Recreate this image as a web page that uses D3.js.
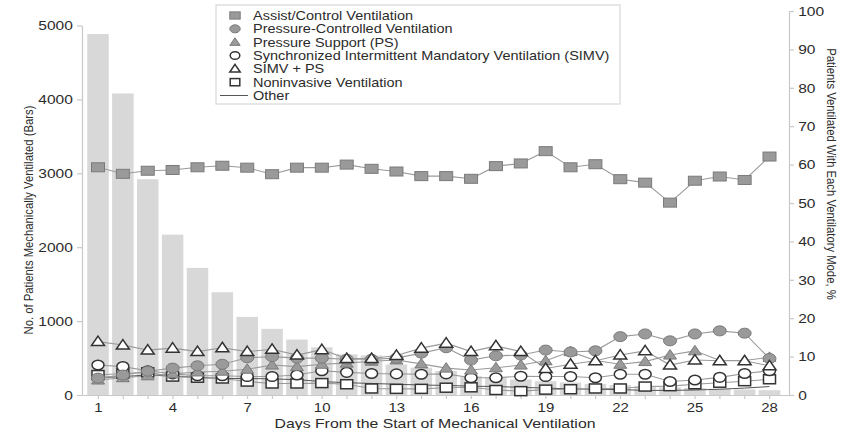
<!DOCTYPE html>
<html>
<head>
<meta charset="utf-8">
<script src="https://cdn.jsdelivr.net/npm/d3@7"></script>
<style>
  html, body { margin: 0; padding: 0; background: #fff; }
  svg { display: block; font-family: "Liberation Sans", Arial, Helvetica, sans-serif; }
</style>
</head>
<body>
<svg id="chart" width="850" height="430"></svg>
<script>
// Days since start of mechanical ventilation
const days = d3.range(1, 29);

// Number of patients still ventilated on each day (bars, left axis)
const patients = [4885, 4080, 2920, 2170, 1720, 1390, 1057, 895, 750, 645,
                  550, 535, 412, 370, 325, 255, 235, 210, 187, 170,
                  150, 135, 120, 105, 95, 85, 75, 65];

// Share of patients on each ventilatory mode, % (right axis)
const assistControl = [59.3, 57.6, 58.4, 58.6, 59.3, 59.7, 59.2, 57.5, 59.2, 59.2,
                       60.0, 58.9, 58.2, 57.0, 57.0, 56.3, 59.6, 60.3, 63.5, 59.3,
                       60.1, 56.2, 55.3, 50.1, 55.8, 56.9, 56.0, 62.1];
const pressureControlled = [4.4, 5.2, 6.2, 7.0, 7.6, 8.0, 9.7, 10.0, 9.6, 9.6,
                            9.3, 9.3, 9.6, 10.9, 12.3, 9.1, 10.2, 10.4, 11.7, 11.2,
                            11.5, 15.2, 15.9, 14.1, 15.9, 16.7, 16.1, 9.5];
const pressureSupport = [3.9, 4.5, 5.0, 5.5, 6.0, 6.2, 6.7, 7.8, 7.4, 8.0,
                         8.3, 8.8, 9.1, 8.1, 7.0, 6.5, 7.1, 7.8, 8.9, 11.3,
                         9.0, 8.0, 8.7, 10.4, 11.5, 9.0, 9.0, 9.8];
const simv = [7.8, 7.4, 6.3, 5.5, 5.0, 5.0, 4.8, 4.8, 5.2, 6.3,
              5.9, 5.6, 5.5, 5.4, 5.5, 4.5, 4.5, 4.9, 4.8, 4.8,
              4.5, 5.4, 5.4, 3.5, 3.9, 4.6, 5.6, 6.3];
const simvPs = [13.9, 13.0, 11.7, 12.2, 11.3, 12.3, 11.3, 11.9, 10.4, 11.8,
                9.5, 9.5, 10.3, 12.2, 13.5, 11.3, 12.8, 11.3, 6.9, 8.0,
                8.9, 10.4, 11.5, 7.8, 9.1, 8.9, 8.9, 7.6];
const noninvasive = [5.2, 5.6, 5.9, 4.8, 4.5, 4.3, 3.5, 3.0, 3.0, 3.1,
                     2.8, 1.7, 1.6, 1.6, 1.9, 2.0, 1.3, 1.0, 1.4, 1.5,
                     1.7, 1.7, 2.2, 2.3, 2.8, 3.2, 3.6, 4.1];
const other = [4.5, 4.8, 5.2, 4.9, 4.6, 4.3, 4.3, 4.2, 4.0, 3.5,
               3.2, 3.0, 2.8, 2.6, 2.5, 2.3, 2.2, 2.0, 1.8, 1.6,
               1.5, 1.4, 1.2, 1.2, 1.3, 1.5, 1.8, 2.2];

// Axis ticks
const leftTicks = [0, 1000, 2000, 3000, 4000, 5000];
const rightTicks = [0, 10, 20, 30, 40, 50, 60, 70, 80, 90, 100];
const dayTickLabels = [1, 4, 7, 10, 13, 16, 19, 22, 25, 28];

// Series definitions (drawing order: back to front)
const seriesList = [
  { name: "Other", values: other, marker: "none" },
  { name: "Noninvasive Ventilation", values: noninvasive, marker: "openSquare" },
  { name: "Synchronized Intermittent Mandatory Ventilation (SIMV)", values: simv, marker: "openCircle" },
  { name: "Pressure Support (PS)", values: pressureSupport, marker: "filledTriangle" },
  { name: "Pressure-Controlled Ventilation", values: pressureControlled, marker: "filledCircle" },
  { name: "SIMV + PS", values: simvPs, marker: "openTriangle" },
  { name: "Assist/Control Ventilation", values: assistControl, marker: "filledSquare" }
];
const legendOrder = [
  "Assist/Control Ventilation",
  "Pressure-Controlled Ventilation",
  "Pressure Support (PS)",
  "Synchronized Intermittent Mandatory Ventilation (SIMV)",
  "SIMV + PS",
  "Noninvasive Ventilation",
  "Other"
];

const svg = d3.select("#chart");
const axisColor = "#c8c8c8";
const textColor = "#2b2b2b";
const stretch = 1.15;   // wide setting of the type

const x = d3.scaleLinear().domain([1, 28]).range([98, 769.5]);
const yLeft = d3.scaleLinear().domain([0, 5000]).range([395, 25.5]);
const yRight = d3.scaleLinear().domain([0, 100]).range([395, 11]);
const barW = 21.5;

// Bars
svg.append("g").selectAll("rect")
  .data(days)
  .join("rect")
  .attr("x", d => x(d) - barW / 2)
  .attr("y", (d, i) => yLeft(patients[i]))
  .attr("width", barW)
  .attr("height", (d, i) => yLeft(0) - yLeft(patients[i]))
  .attr("fill", "#d8d8d8");

// Axes
function styleAxis(g, size) {
  g.select(".domain").attr("stroke", axisColor).attr("stroke-width", 1.2);
  g.selectAll(".tick line").attr("stroke", axisColor).attr("stroke-width", 1.2);
  g.selectAll(".tick text").attr("fill", textColor).attr("font-size", size)
    .attr("font-family", "Liberation Sans, Arial, sans-serif")
    .attr("transform", `scale(${stretch},1)`);
}

const leftAxis = svg.append("g")
  .attr("transform", "translate(82,0)")
  .call(d3.axisLeft(yLeft).tickValues(leftTicks).tickFormat(d3.format("d"))
    .tickSize(5).tickPadding(3).tickSizeOuter(0));
styleAxis(leftAxis, 13.5);

const rightAxis = svg.append("g")
  .attr("transform", "translate(789,0)")
  .call(d3.axisRight(yRight).tickValues(rightTicks).tickSize(5).tickPadding(3).tickSizeOuter(0));
styleAxis(rightAxis, 13.5);

const xAxisScale = d3.scaleLinear().domain([0.36, 28.8]).range([82, 789]);
const bottomAxis = svg.append("g")
  .attr("transform", "translate(0,395)")
  .call(d3.axisBottom(xAxisScale).tickValues(days).tickSize(4).tickPadding(3).tickSizeOuter(0)
    .tickFormat(d => dayTickLabels.includes(d) ? d : ""));
styleAxis(bottomAxis, 13);
bottomAxis.selectAll(".tick text").filter(d => !dayTickLabels.includes(d)).remove();
bottomAxis.selectAll(".tick text").attr("dy", "0.78em");

// Axis titles
svg.append("text")
  .attr("transform", `translate(33,220) rotate(-90) scale(1,${stretch})`)
  .attr("text-anchor", "middle")
  .attr("font-size", 11.3)
  .attr("fill", textColor)
  .text("No. of Patients Mechanically Ventilated (Bars)");

svg.append("text")
  .attr("transform", `translate(827,174) rotate(90) scale(1,${stretch})`)
  .attr("text-anchor", "middle")
  .attr("font-size", 11.3)
  .attr("fill", textColor)
  .text("Patients Ventilated With Each Ventilatory Mode, %");

svg.append("text")
  .attr("transform", `translate(435,428) scale(${stretch + 0.05},1)`)
  .attr("text-anchor", "middle")
  .attr("font-size", 13.2)
  .attr("fill", textColor)
  .text("Days From the Start of Mechanical Ventilation");

// Marker drawing
const filledGrey = "#9a9a9a";
const filledStroke = "#7a7a7a";
const openStroke = "#333";

function drawMarker(g, type, cx, cy, k = 1) {
  switch (type) {
    case "filledSquare":
      g.append("rect").attr("x", cx - 6.5 * k).attr("y", cy - 4.5 * k).attr("width", 13 * k).attr("height", 9 * k)
        .attr("fill", filledGrey).attr("stroke", filledStroke).attr("stroke-width", 1);
      break;
    case "openSquare":
      g.append("rect").attr("x", cx - 6 * k).attr("y", cy - 4.5 * k).attr("width", 12 * k).attr("height", 9 * k)
        .attr("fill", "#fff").attr("stroke", openStroke).attr("stroke-width", 1.5);
      break;
    case "filledCircle":
      g.append("ellipse").attr("cx", cx).attr("cy", cy).attr("rx", 6.5 * k).attr("ry", 5 * k)
        .attr("fill", filledGrey).attr("stroke", filledStroke).attr("stroke-width", 1);
      break;
    case "openCircle":
      g.append("ellipse").attr("cx", cx).attr("cy", cy).attr("rx", 6 * k).attr("ry", 4.8 * k)
        .attr("fill", "#fff").attr("stroke", openStroke).attr("stroke-width", 1.5);
      break;
    case "filledTriangle":
      g.append("path").attr("d", `M${cx},${cy - 5.5 * k}L${cx + 6.5 * k},${cy + 4 * k}L${cx - 6.5 * k},${cy + 4 * k}Z`)
        .attr("fill", filledGrey).attr("stroke", filledStroke).attr("stroke-width", 1);
      break;
    case "openTriangle":
      g.append("path").attr("d", `M${cx},${cy - 5.5 * k}L${cx + 6.5 * k},${cy + 4 * k}L${cx - 6.5 * k},${cy + 4 * k}Z`)
        .attr("fill", "#fff").attr("stroke", openStroke).attr("stroke-width", 1.5);
      break;
  }
}

const line = d3.line().x((d, i) => x(days[i])).y(d => yRight(d));

// Connecting lines first, then markers on top
const linesG = svg.append("g");
seriesList.forEach(s => {
  linesG.append("path")
    .datum(s.values)
    .attr("d", line)
    .attr("fill", "none")
    .attr("stroke", s.marker === "none" ? "#555" : "#9a9a9a")
    .attr("stroke-width", s.marker === "none" ? 1 : 1.1);
});

const markersG = svg.append("g");
seriesList.forEach(s => {
  if (s.marker === "none") return;
  const g = markersG.append("g");
  s.values.forEach((v, i) => drawMarker(g, s.marker, x(days[i]), yRight(v)));
});

// Legend
const legend = svg.append("g");
legend.append("rect")
  .attr("x", 216).attr("y", 5).attr("width", 404).attr("height", 99)
  .attr("fill", "#fff").attr("stroke", "#d8d8d8").attr("stroke-width", 1.2);

const legendRowY = d3.scaleLinear().domain([0, 6]).range([15.5, 95.5]);
legendOrder.forEach((name, i) => {
  const s = seriesList.find(d => d.name === name);
  const cy = legendRowY(i);
  const g = legend.append("g");
  if (s.marker === "none") {
    g.append("line").attr("x1", 220).attr("x2", 248).attr("y1", cy).attr("y2", cy)
      .attr("stroke", "#555").attr("stroke-width", 1);
  } else {
    drawMarker(g, s.marker, 235, cy, 0.8);
  }
  g.append("text")
    .attr("transform", `translate(253,${cy}) scale(${stretch},1)`)
    .attr("dy", "0.35em")
    .attr("font-size", 12.6)
    .attr("fill", textColor)
    .text(name);
});
</script>
</body>
</html>
